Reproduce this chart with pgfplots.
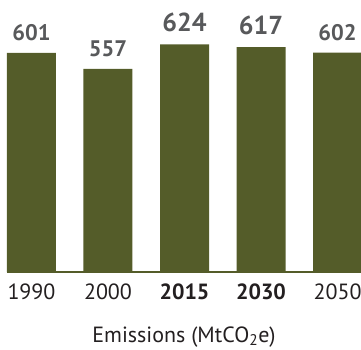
\documentclass[border=0pt]{standalone}
\usepackage{pgfplots}
\pgfplotsset{compat=1.18}
\usepackage{fontspec}
\setmainfont{PT Sans}
\definecolor{barolive}{HTML}{545C29}
\definecolor{valgray}{HTML}{58595B}
\definecolor{txt}{HTML}{231F20}
\begin{document}
\begin{tikzpicture}
\useasboundingbox (-7pt,-77pt) rectangle (354pt,272pt);
\begin{axis}[
  at={(0,0)}, anchor=south west,
  scale only axis, width=354pt, height=272pt,
  xmin=-0.32, xmax=4.307, ymin=0, ymax=746,
  ybar, bar width=49pt, bar shift=0pt,
  axis x line*=bottom, axis y line=none,
  axis line style={barolive, line width=2.5pt, -},
  xtick={0,1,2,3,4}, major tick length=0pt,
  xticklabels={1990,2000,\textbf{2015},\textbf{2030},2050},
  xticklabel style={font=\fontsize{22}{24}\selectfont, text=txt, anchor=base, yshift=-27pt},
  ytick=\empty,
  /pgf/number format/assume math mode=true,
  xlabel={Emissions (MtCO\textsubscript{2}e)},
  every axis x label/.style={at={(axis description cs:0.5,0)}, anchor=base, yshift=-70pt, font=\fontsize{22}{24}\selectfont, text=txt},
  clip=false,
]
\addplot[fill=barolive, draw=none,
  nodes near coords, nodes near coords style={anchor=base, yshift=12.5pt, text=valgray, font=\fontsize{22.5}{24}\selectfont\bfseries}]
  coordinates {(0,601) (1,557) (4,602)};
\addplot[fill=barolive, draw=none,
  nodes near coords, nodes near coords style={anchor=base, yshift=12.5pt, text=valgray, font=\fontsize{26}{28}\selectfont\bfseries}]
  coordinates {(2,624) (3,617)};
\end{axis}
\end{tikzpicture}
\end{document}
